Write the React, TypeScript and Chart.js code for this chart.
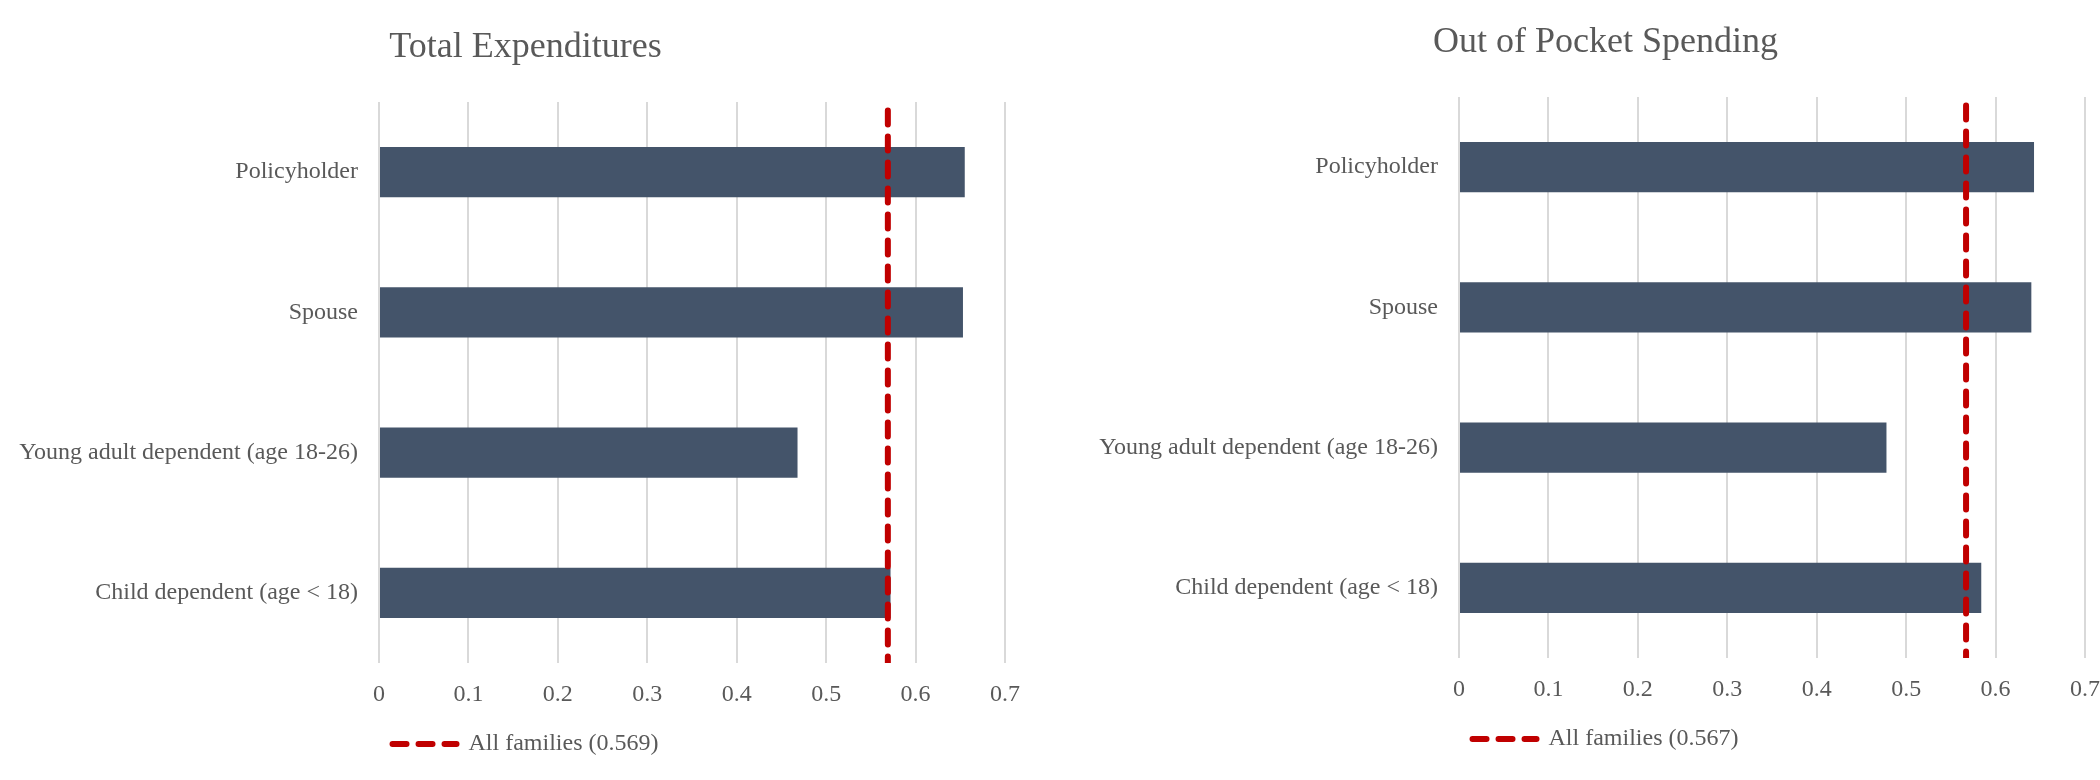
import React, { useEffect, useRef } from 'react';
import { Chart, registerables } from 'chart.js';

Chart.register(...registerables);

const categories = [
  'Policyholder',
  'Spouse',
  'Young adult dependent (age 18-26)',
  'Child dependent (age < 18)',
];
const totalExpenditures = [0.655, 0.653, 0.468, 0.572];
const outOfPocket = [0.643, 0.64, 0.478, 0.584];
const allFamiliesTotal = 0.569;
const allFamiliesOOP = 0.567;
const xTickLabels = ['0', '0.1', '0.2', '0.3', '0.4', '0.5', '0.6', '0.7'];
const refLineSpan = [0.985, 0];

const FONT = "'Liberation Serif', 'Times New Roman', serif";
const TEXT = '#595959';
const BAR = '#44546A';
const RED = '#C00000';
const GRID = '#D9D9D9';

type PanelProps = {
  title: string;
  values: number[];
  refValue: number;
  left: number;
  top: number;
};

function Panel({ title, values, refValue, left, top }: PanelProps) {
  const ref = useRef<HTMLCanvasElement | null>(null);
  useEffect(() => {
    if (!ref.current) return;
    const legendText = `All families (${refValue.toFixed(3)})`;
    const chart = new Chart(ref.current, {
      type: 'bar',
      data: {
        labels: categories,
        datasets: [
          {
            type: 'bar',
            label: title,
            data: values,
            backgroundColor: BAR,
            borderWidth: 0,
            grouped: false,
            categoryPercentage: 1,
            barPercentage: 0.357,
            xAxisID: 'x',
            yAxisID: 'y',
            order: 1,
          } as any,
          {
            type: 'line',
            label: legendText,
            data: refLineSpan.map((v) => ({ x: refValue, y: v })),
            borderColor: RED,
            backgroundColor: RED,
            borderWidth: 6,
            borderDash: [14, 12],
            borderCapStyle: 'round',
            pointRadius: 0,
            fill: false,
            tension: 0,
            xAxisID: 'x',
            yAxisID: 'y2',
            order: 0,
          } as any,
        ],
      },
      options: {
        indexAxis: 'y',
        responsive: false,
        animation: false,
        events: [],
        layout: { padding: { left: 10, right: 9, top: 0, bottom: 14 } },
        scales: {
          x: {
            type: 'linear',
            min: 0,
            max: 0.7,
            ticks: {
              stepSize: 0.1,
              padding: 17.7,
              color: TEXT,
              font: { family: FONT, size: 24 },
              callback: (_v: any, i: number) => xTickLabels[i],
            },
            grid: { color: GRID, lineWidth: 2, drawTicks: false },
            border: { display: false },
          },
          y: {
            type: 'category',
            offset: true,
            grid: { display: false, drawTicks: false },
            border: { display: false },
            ticks: {
              padding: 21,
              color: TEXT,
              font: { family: FONT, size: 24 },
            },
            afterFit: (scale: any) => {
              scale.width = 369;
            },
          },
          y2: {
            type: 'linear',
            display: true,
            position: 'right',
            offset: false,
            min: 0,
            max: 1,
            grid: { display: false, drawTicks: false, offset: false },
            border: { display: false },
            ticks: { display: false },
            afterFit: (scale: any) => {
              scale.width = 36;
            },
          },
        },
        plugins: {
          title: {
            display: true,
            text: title,
            color: TEXT,
            font: { family: FONT, size: 36, weight: 'normal' },
            padding: { top: 26.4, bottom: 32.4 },
          },
          legend: {
            display: true,
            position: 'bottom',
            labels: {
              usePointStyle: true,
              pointStyleWidth: 64,
              padding: 4.8,
              color: TEXT,
              font: { family: FONT, size: 24 },
              generateLabels: () => [
                {
                  text: legendText,
                  fillStyle: RED,
                  strokeStyle: RED,
                  fontColor: TEXT,
                  lineWidth: 6,
                  lineDash: [14, 12],
                  lineCap: 'round',
                  pointStyle: 'line',
                  hidden: false,
                  datasetIndex: 1,
                } as any,
              ],
            },
          },
          tooltip: { enabled: false },
        },
      } as any,
    });
    return () => chart.destroy();
  }, [title, values, refValue]);

  return (
    <canvas
      ref={ref}
      width={1050}
      height={780}
      style={{ position: 'absolute', left, top, width: 1050, height: 780 }}
    />
  );
}

export default function App() {
  return (
    <div
      style={{
        position: 'fixed',
        left: 0,
        top: 0,
        width: 2100,
        height: 780,
        overflow: 'hidden',
        background: '#ffffff',
      }}
    >
      <Panel title="Total Expenditures" values={totalExpenditures} refValue={allFamiliesTotal} left={0} top={0} />
      <Panel title="Out of Pocket Spending" values={outOfPocket} refValue={allFamiliesOOP} left={1080} top={-5} />
    </div>
  );
}
